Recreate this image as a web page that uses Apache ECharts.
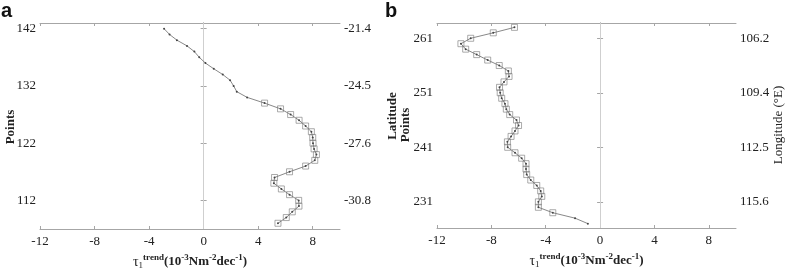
<!DOCTYPE html>
<html><head><meta charset="utf-8">
<script src="https://cdn.jsdelivr.net/npm/echarts@6/dist/echarts.min.js"></script>
<style>html,body{margin:0;padding:0;background:#fff}#c{width:787px;height:268px}</style>
</head><body><div id="c"></div>
<script>
// ---- data ----
const xTickValues = [-12, -8, -4, 0, 4, 8];

const aPoints = [108,109,110,111,112,113,114,115,116,117,118,119,120,121,122,123,124,125,126,127,128,129,130,131,132,133,134,135,136,137,138,139,140,141,142];
const aTrend  = [5.45,6.06,6.5,6.99,6.97,6.3,5.7,5.15,5.2,6.3,7.48,8.15,8.27,8.1,8.02,8.0,7.9,7.48,7.0,6.38,5.64,4.47,3.19,2.43,2.2,1.94,1.4,0.74,0.13,-0.32,-0.68,-1.22,-1.96,-2.5,-2.9];
const aSig    = [1,1,1,1,1,1,1,1,1,1,1,1,1,1,1,1,1,1,1,1,1,1,0,0,0,0,0,0,0,0,0,0,0,0,0];
const aTickPoints = [112, 122, 132, 142];
const aLatLabels  = ['-30.8', '-27.6', '-24.5', '-21.4'];

const bPoints = [227,228,229,230,231,232,233,234,235,236,237,238,239,240,241,242,243,244,245,246,247,248,249,250,251,252,253,254,255,256,257,258,259,260,261,262,263];
const bTrend  = [-0.9,-1.84,-3.48,-4.54,-4.54,-4.29,-4.37,-4.66,-5.1,-5.4,-5.45,-5.45,-5.77,-6.26,-6.8,-6.82,-6.55,-6.26,-6.0,-6.15,-6.65,-6.9,-7.0,-7.24,-7.35,-7.4,-7.07,-6.7,-6.75,-7.42,-8.27,-9.08,-9.89,-10.24,-9.52,-7.86,-6.3];
const bSig    = [0,0,1,1,1,1,1,1,1,1,1,1,1,1,1,1,1,1,1,1,1,1,1,1,1,1,1,1,1,1,1,1,1,1,1,1,1];
const bTickPoints = [231, 241, 251, 261];
const bLonLabels  = ['115.6', '112.5', '109.4', '106.2'];

// ---- styles ----
const SERIF = 'Liberation Serif';
const AX = '#a6a6a6';
const TXT = '#222';

const xName = '{t|τ}{s|1}{u|trend}{n|(10}{u|-3}{n|Nm}{u|-2}{n|dec}{u|-1}{n|)}';
const xRich = {
  t: {fontFamily: SERIF, fontSize: 14, color: TXT},
  s: {fontFamily: SERIF, fontSize: 9, color: TXT, padding: [8, 0, 0, 0]},
  u: {fontFamily: SERIF, fontSize: 9, color: TXT, fontWeight: 'bold', padding: [0, 0, 9, 0]},
  n: {fontFamily: SERIF, fontSize: 13, color: TXT, fontWeight: 'bold'}
};

function pairs(xs, ys, filt) {
  const out = [];
  for (let i = 0; i < xs.length; i++) {
    if (!filt || filt[i]) out.push([xs[i], ys[i]]);
  }
  return out;
}

function xAxes(gi) {
  return [
    {
      type: 'value', gridIndex: gi, position: 'bottom', min: -12, max: 10,
      axisLine: {show: true, lineStyle: {color: AX, width: 1}},
      axisTick: {show: true, inside: true, length: 3, customValues: xTickValues, lineStyle: {color: AX}},
      axisLabel: {show: true, customValues: xTickValues, margin: 6, fontFamily: SERIF, fontSize: 13, color: TXT},
      splitLine: {show: false},
      name: xName, nameLocation: 'middle', nameGap: 17,
      nameTextStyle: {rich: xRich, fontFamily: SERIF}
    },
    {
      type: 'value', gridIndex: gi, position: 'top', min: -12, max: 10,
      axisLine: {show: true, lineStyle: {color: AX, width: 1}},
      axisTick: {show: true, inside: true, length: 3, customValues: xTickValues, lineStyle: {color: AX}},
      axisLabel: {show: false},
      splitLine: {show: false}
    }
  ];
}

function yAxes(gi, min, max, ticks, rightLabels) {
  return [
    {
      type: 'value', gridIndex: gi, position: 'left', min: min, max: max,
      axisLine: {show: true, lineStyle: {color: AX, width: 1}},
      axisTick: {show: true, inside: false, length: 3, customValues: ticks, lineStyle: {color: AX}},
      axisLabel: {show: true, customValues: ticks, margin: 4, fontFamily: SERIF, fontSize: 13, color: TXT},
      splitLine: {show: false}
    },
    {
      type: 'value', gridIndex: gi, position: 'right', min: min, max: max,
      axisLine: {show: true, lineStyle: {color: AX, width: 1}},
      axisTick: {show: true, inside: false, length: 3, customValues: ticks, lineStyle: {color: AX}},
      axisLabel: {
        show: true, customValues: ticks, margin: 4, fontFamily: SERIF, fontSize: 13, color: TXT,
        formatter: function (v) { const i = ticks.indexOf(v); return i >= 0 ? rightLabels[i] : ''; }
      },
      splitLine: {show: false}
    }
  ];
}

function seriesFor(xi, yi, xs, ys, sig) {
  return [
    {
      type: 'line', xAxisIndex: xi, yAxisIndex: yi,
      data: pairs(ys, xs),
      symbol: 'circle', symbolSize: 2, showSymbol: true,
      lineStyle: {color: '#6a6a6a', width: 0.8},
      itemStyle: {color: '#444'},
      silent: true, z: 3,
      markLine: {
        silent: true, symbol: 'none', label: {show: false},
        lineStyle: {color: '#cfcfcf', width: 1, type: 'solid'},
        data: [{xAxis: 0}], z: 1
      }
    },
    {
      type: 'scatter', xAxisIndex: xi, yAxisIndex: yi,
      data: pairs(ys, xs, sig),
      symbol: 'rect', symbolSize: 6,
      itemStyle: {color: 'rgba(255,255,255,0)', borderColor: '#7a7a7a', borderWidth: 0.8},
      silent: true, z: 4
    }
  ];
}

function vText(txt, x, y, bold) {
  return {
    type: 'text', x: x, y: y, rotation: Math.PI / 2,
    style: {text: txt, fontFamily: SERIF, fontWeight: bold ? 'bold' : 'normal', fontSize: 13, fill: TXT, align: 'center', verticalAlign: 'middle'}
  };
}

const chart = echarts.init(document.getElementById('c'), null, {renderer: 'canvas'});
chart.setOption({
  animation: false,
  backgroundColor: '#fff',
  grid: [
    {left: 40, top: 23, width: 300, height: 206, outerBoundsMode: 'none', containLabel: false},
    {left: 437, top: 23, width: 299, height: 205, outerBoundsMode: 'none', containLabel: false}
  ],
  xAxis: [].concat(xAxes(0), xAxes(1)),
  yAxis: [].concat(
    yAxes(0, 107, 143, aTickPoints, aLatLabels),
    yAxes(1, 226.2, 263.8, bTickPoints, bLonLabels)
  ),
  series: [].concat(
    seriesFor(0, 0, aPoints, aTrend, aSig),
    seriesFor(2, 2, bPoints, bTrend, bSig)
  ),
  graphic: [
    {type: 'text', left: 1, top: 1, style: {text: 'a', fontFamily: 'Liberation Sans', fontWeight: 'bold', fontSize: 20, fill: '#111'}},
    {type: 'text', left: 385, top: 1, style: {text: 'b', fontFamily: 'Liberation Sans', fontWeight: 'bold', fontSize: 20, fill: '#111'}},
    vText('Points', 11, 127, true),
    vText('Latitude', 393, 116, true),
    vText('Points', 406, 125, true),
    vText('Longitude (°E)', 779, 125, false)
  ]
});
</script></body></html>
